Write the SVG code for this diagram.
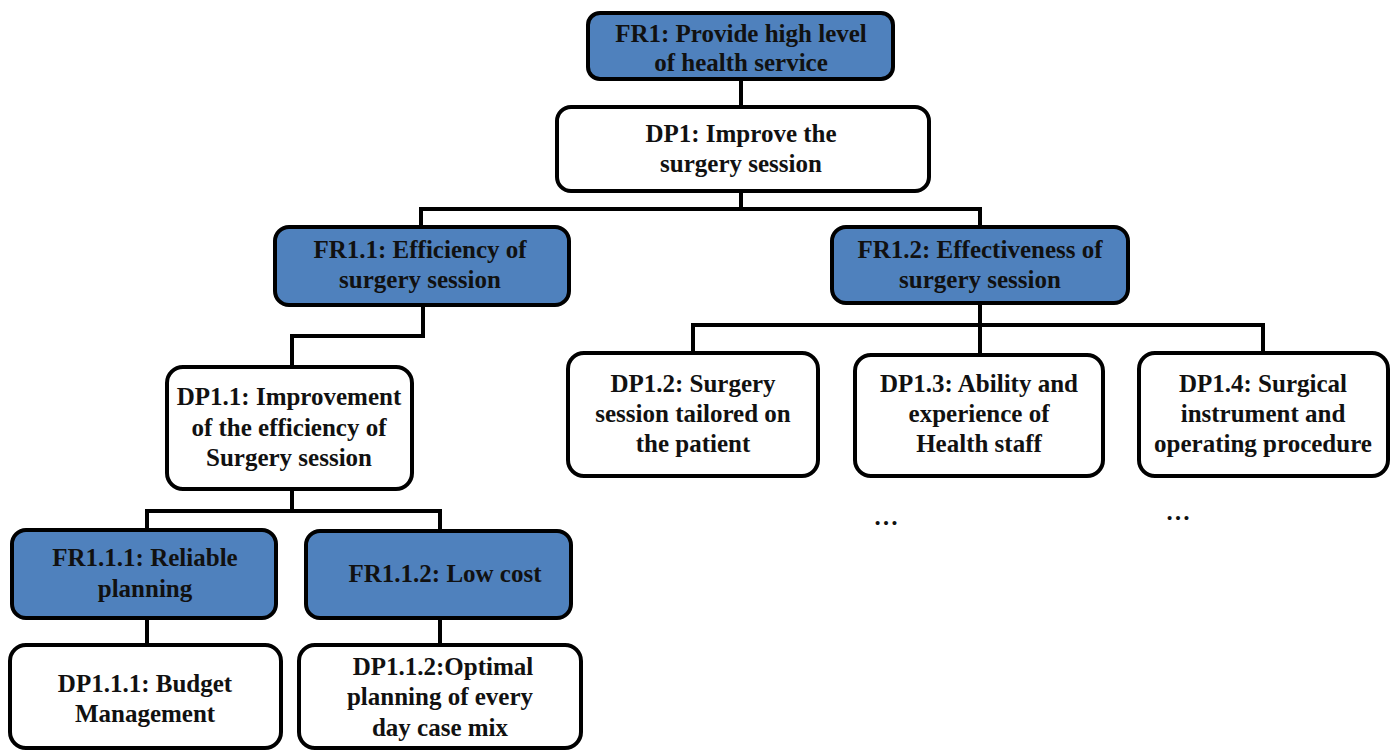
<svg xmlns="http://www.w3.org/2000/svg" width="1397" height="751" viewBox="0 0 1397 751">
<style>
.fr{fill:#4F81BD;stroke:#000;stroke-width:4}
.dp{fill:#fff;stroke:#000;stroke-width:4}
.t{font-family:"Liberation Serif","Times New Roman",serif;font-weight:bold;font-size:25px;fill:#111;text-anchor:middle}
.c{fill:none;stroke:#000;stroke-width:4}
</style>
<rect width="1397" height="751" fill="#fff"/>
<g id="connectors">
<path class="c" d="M741 79V107"/>
<path class="c" d="M741 191V209M421 227V209H980V227"/>
<path class="c" d="M423 305V336H292V367"/>
<path class="c" d="M292 489V511M147 530V511H440V531"/>
<path class="c" d="M147 618V645"/>
<path class="c" d="M440 618V645"/>
<path class="c" d="M980 303V325M693 353V325H1263V353M980 325V355"/>
</g>
<g id="FR1"><rect class="fr" x="588" y="13" width="305" height="66" rx="12"/>
<text class="t" x="741" y="42">FR1: Provide high level</text><text class="t" x="741" y="71">of health service</text></g>
<g id="DP1"><rect class="dp" x="557" y="107" width="372" height="84" rx="14"/>
<text class="t" x="741" y="142">DP1: Improve the</text><text class="t" x="741" y="172">surgery session</text></g>
<g id="FR1.1"><rect class="fr" x="275" y="227" width="294" height="78" rx="14"/>
<text class="t" x="420" y="258">FR1.1: Efficiency of</text><text class="t" x="420" y="288">surgery session</text></g>
<g id="FR1.2"><rect class="fr" x="832" y="227" width="296" height="76" rx="14"/>
<text class="t" x="980" y="258">FR1.2: Effectiveness of</text><text class="t" x="980" y="288">surgery session</text></g>
<g id="DP1.1"><rect class="dp" x="167" y="367" width="245" height="122" rx="16"/>
<text class="t" x="289" y="405">DP1.1: Improvement</text><text class="t" x="289" y="436">of the efficiency of</text><text class="t" x="289" y="466">Surgery session</text></g>
<g id="FR1.1.1"><rect class="fr" x="12" y="530" width="264" height="88" rx="14"/>
<text class="t" x="145" y="566">FR1.1.1: Reliable</text><text class="t" x="145" y="597">planning</text></g>
<g id="FR1.1.2"><rect class="fr" x="306" y="531" width="265" height="87" rx="14"/>
<text class="t" x="445" y="582">FR1.1.2: Low cost</text></g>
<g id="DP1.1.1"><rect class="dp" x="10" y="645" width="271" height="103" rx="16"/>
<text class="t" x="145" y="692">DP1.1.1: Budget</text><text class="t" x="145" y="722">Management</text></g>
<g id="DP1.1.2"><rect class="dp" x="299" y="645" width="282" height="103" rx="16"/>
<text class="t" x="443" y="675">DP1.1.2:Optimal</text><text class="t" x="440" y="705">planning of every</text><text class="t" x="440" y="736">day case mix</text></g>
<g id="DP1.2"><rect class="dp" x="568" y="353" width="250" height="123" rx="16"/>
<text class="t" x="693" y="392">DP1.2: Surgery</text><text class="t" x="693" y="422">session tailored on</text><text class="t" x="693" y="452">the patient</text></g>
<g id="DP1.3"><rect class="dp" x="855" y="355" width="248" height="121" rx="16"/>
<text class="t" x="979" y="392">DP1.3: Ability and</text><text class="t" x="979" y="422">experience of</text><text class="t" x="979" y="452">Health staff</text></g>
<g id="DP1.4"><rect class="dp" x="1139" y="353" width="249" height="123" rx="16"/>
<text class="t" x="1263" y="392">DP1.4: Surgical</text><text class="t" x="1263" y="422">instrument and</text><text class="t" x="1263" y="452">operating procedure</text></g>
<g id="dots"><text class="t" x="886" y="525">…</text><text class="t" x="1178" y="520">…</text></g>
</svg>
